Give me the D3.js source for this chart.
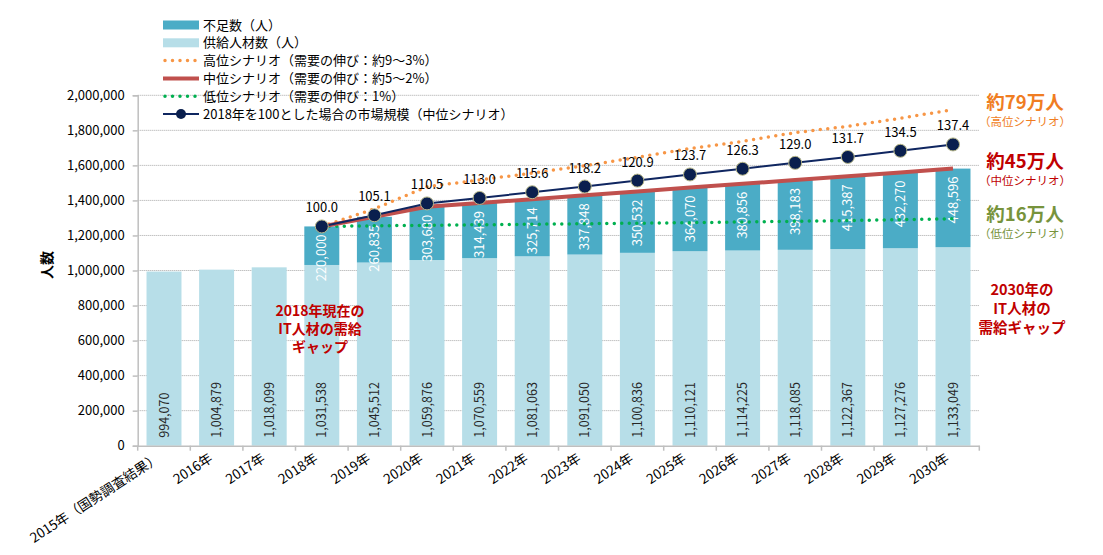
<!DOCTYPE html>
<html lang="ja">
<head>
<meta charset="utf-8">
<title>IT人材の需給ギャップ</title>
<script src="https://d3js.org/d3.v7.min.js"></script>
<style>
  body { margin: 0; background: #fff; }
  svg text { font-family: "Noto Sans CJK JP", "Noto Sans", sans-serif; }
</style>
</head>
<body>
<div id="chart"></div>
<script>
// data
const years = ["2015年（国勢調査結果）", "2016年", "2017年", "2018年", "2019年", "2020年", "2021年", "2022年",
  "2023年", "2024年", "2025年", "2026年", "2027年", "2028年", "2029年", "2030年"];
const supply = [994070, 1004879, 1018099, 1031538, 1045512, 1059876, 1070559, 1081063,
  1091050, 1100836, 1110121, 1114225, 1118085, 1122367, 1127276, 1133049];
// shortage from 2018 on (中位シナリオ)
const shortage = [null, null, null, 220000, 260835, 303680, 314439, 325714,
  337848, 350532, 364070, 380856, 398183, 415387, 432270, 448596];
// demand, high / low scenario, 2018..2030
const highDemand = [1251538, 1352000, 1478000, 1517000, 1556000, 1598000, 1646000,
  1696000, 1737000, 1787000, 1823000, 1869000, 1918000];
const lowDemand = [1251538, 1255000, 1258000, 1261000, 1264000, 1267000, 1270000,
  1273000, 1277000, 1281000, 1285000, 1290000, 1295000];
// market size index, 2018 = 100
const marketIndex = [100.0, 105.1, 110.5, 113.0, 115.6, 118.2, 120.9, 123.7, 126.3, 129.0, 131.7, 134.5, 137.4];
const yTicks = [0, 200000, 400000, 600000, 800000, 1000000, 1200000, 1400000, 1600000, 1800000, 2000000];

const width = 1103, height = 555;
const plotLeft = 137.7, plotRight = 979.3, plotTop = 95.3, plotBottom = 445.7;

const svg = d3.select("#chart").append("svg")
  .attr("width", width).attr("height", height);

const x = d3.scaleBand().domain(years).range([plotLeft, plotRight]).paddingInner(0.335).paddingOuter(0.1675);
const y = d3.scaleLinear().domain([0, 2000000]).range([plotBottom, plotTop]);
const cx = i => x(years[i]) + x.bandwidth() / 2;
const fmt = d3.format(",");

// grid
svg.append("g").selectAll("line").data(yTicks.slice(1)).enter().append("line")
  .attr("x1", plotLeft).attr("x2", plotRight)
  .attr("y1", d => y(d)).attr("y2", d => y(d))
  .attr("stroke", "#a6a6a6").attr("stroke-width", 1).attr("stroke-dasharray", "1,1");

// y axis
const yAxis = d3.axisLeft(y).tickValues(yTicks).tickFormat(fmt).tickSize(5).tickPadding(8);
const gy = svg.append("g").attr("transform", `translate(${plotLeft},0)`).call(yAxis);
gy.selectAll("path, line").attr("stroke", "#bfbfbf").attr("stroke-width", 1.5);
gy.selectAll("text").attr("font-size", 13).attr("fill", "#000");

svg.append("text")
  .attr("transform", `translate(52,265) rotate(-90)`)
  .attr("text-anchor", "middle").attr("font-size", 14).attr("font-weight", "bold")
  .text("人数");

// bars - supply
svg.append("g").selectAll("rect").data(supply).enter().append("rect")
  .attr("x", (d, i) => x(years[i])).attr("width", x.bandwidth())
  .attr("y", d => y(d)).attr("height", d => plotBottom - y(d))
  .attr("fill", "#b7dee8");

// bars - shortage
const gapIdx = d3.range(years.length).filter(i => shortage[i] != null);
svg.append("g").selectAll("rect").data(gapIdx).enter().append("rect")
  .attr("x", i => x(years[i])).attr("width", x.bandwidth())
  .attr("y", i => y(supply[i] + shortage[i]))
  .attr("height", i => y(supply[i]) - y(supply[i] + shortage[i]))
  .attr("fill", "#4bacc6");

// x axis
const xAxis = d3.axisBottom(x).tickSize(0).tickFormat("");
const gx = svg.append("g").attr("transform", `translate(0,${plotBottom})`).call(xAxis);
gx.select("path").attr("stroke", "#bfbfbf").attr("stroke-width", 1.5);
const step = x.step();
svg.append("g").selectAll("line").data(d3.range(years.length + 1)).enter().append("line")
  .attr("x1", i => plotLeft + i * step).attr("x2", i => plotLeft + i * step)
  .attr("y1", plotBottom).attr("y2", plotBottom + 5)
  .attr("stroke", "#bfbfbf").attr("stroke-width", 1.5);
svg.append("g").selectAll("text").data(years).enter().append("text")
  .attr("transform", (d, i) => `translate(${cx(i) - 3},${plotBottom + 15}) rotate(-33)`)
  .attr("text-anchor", "end").attr("font-size", 13.5).attr("fill", "#000")
  .text(d => d);

// supply labels
svg.append("g").selectAll("text").data(supply).enter().append("text")
  .attr("transform", (d, i) => `translate(${cx(i) + 4.5},${plotBottom - 8}) rotate(-90)`)
  .attr("text-anchor", "start").attr("font-size", 12.5).attr("fill", "#262626")
  .text(d => fmt(d));

// shortage labels
svg.append("g").selectAll("text").data(gapIdx).enter().append("text")
  .attr("transform", i => `translate(${cx(i) + 4.5},${y(supply[i] + shortage[i]) + 8}) rotate(-90)`)
  .attr("text-anchor", "end").attr("font-size", 13).attr("fill", "#fff")
  .text(i => fmt(shortage[i]));

// scenario lines (2018..2030)
const first = 3;
const line = d3.line().x((d, i) => cx(first + i)).y(d => y(d));
const midDemand = gapIdx.map(i => supply[i] + shortage[i]);

svg.append("path").datum(highDemand).attr("d", line)
  .attr("fill", "none").attr("stroke", "#f79646").attr("stroke-width", 3.5)
  .attr("stroke-linecap", "round").attr("stroke-dasharray", "0,7.5");
svg.append("path").datum(lowDemand).attr("d", line)
  .attr("fill", "none").attr("stroke", "#00b050").attr("stroke-width", 3.5)
  .attr("stroke-linecap", "round").attr("stroke-dasharray", "0,7.5");
svg.append("path").datum(midDemand).attr("d", line)
  .attr("fill", "none").attr("stroke", "#c0504d").attr("stroke-width", 4);

// market size (index scaled to 2018 demand)
const base = midDemand[0] / 100;
svg.append("path").datum(marketIndex.map(v => v * base)).attr("d", line)
  .attr("fill", "none").attr("stroke", "#0f2660").attr("stroke-width", 2);
svg.append("g").selectAll("circle").data(marketIndex).enter().append("circle")
  .attr("cx", (d, i) => cx(first + i)).attr("cy", d => y(d * base)).attr("r", 6.5)
  .attr("fill", "#0a1f4e").attr("stroke", "#b9b98a").attr("stroke-width", 1);
svg.append("g").selectAll("text").data(marketIndex).enter().append("text")
  .attr("x", (d, i) => cx(first + i)).attr("y", d => y(d * base) - 14)
  .attr("text-anchor", "middle").attr("font-size", 13).attr("fill", "#000")
  .text(d => d.toFixed(1));

// legend
const legend = svg.append("g").attr("transform", "translate(163,0)");
const rows = [
  { t: "不足数（人）", k: "rect", c: "#4bacc6" },
  { t: "供給人材数（人）", k: "rect", c: "#b7dee8" },
  { t: "高位シナリオ（需要の伸び：約9～3%）", k: "dot", c: "#f79646" },
  { t: "中位シナリオ（需要の伸び：約5～2%）", k: "solid", c: "#c0504d" },
  { t: "低位シナリオ（需要の伸び：1%）", k: "dot", c: "#00b050" },
  { t: "2018年を100とした場合の市場規模（中位シナリオ）", k: "mark", c: "#0f2660" }
];
rows.forEach((r, i) => {
  const yy = 25 + i * 17.8;
  const g = legend.append("g").attr("transform", `translate(0,${yy})`);
  if (r.k === "rect") {
    g.append("rect").attr("x", 0).attr("y", -4.5).attr("width", 36).attr("height", 9).attr("fill", r.c);
  } else if (r.k === "dot") {
    g.append("line").attr("x1", 2).attr("x2", 36).attr("y1", 0).attr("y2", 0)
      .attr("stroke", r.c).attr("stroke-width", 3.5).attr("stroke-linecap", "round").attr("stroke-dasharray", "0,7.5");
  } else if (r.k === "solid") {
    g.append("line").attr("x1", 0).attr("x2", 36).attr("y1", 0).attr("y2", 0)
      .attr("stroke", r.c).attr("stroke-width", 4);
  } else {
    g.append("line").attr("x1", 0).attr("x2", 36).attr("y1", 0).attr("y2", 0)
      .attr("stroke", r.c).attr("stroke-width", 2);
    g.append("circle").attr("cx", 18).attr("cy", 0).attr("r", 5).attr("fill", "#0a1f4e");
  }
  g.append("text").attr("x", 40).attr("y", 4.5).attr("font-size", 13).attr("fill", "#000").text(r.t);
});

// annotations
const notes = [
  { t: "約79万人", s: "（高位シナリオ）", c: "#f07d22", y: 109 },
  { t: "約45万人", s: "（中位シナリオ）", c: "#c00000", y: 168 },
  { t: "約16万人", s: "（低位シナリオ）", c: "#77933c", y: 221 }
];
notes.forEach(n => {
  svg.append("text").attr("x", 1025).attr("y", n.y).attr("text-anchor", "middle")
    .attr("font-size", 18.5).attr("font-weight", "bold").attr("fill", n.c).text(n.t);
  svg.append("text").attr("x", 1025).attr("y", n.y + 17).attr("text-anchor", "middle")
    .attr("font-size", 11.5).attr("fill", n.c).text(n.s);
});
["2030年の", "IT人材の", "需給ギャップ"].forEach((t, i) => {
  svg.append("text").attr("x", 1022).attr("y", 295 + i * 19).attr("text-anchor", "middle")
    .attr("font-size", 14.5).attr("font-weight", "bold").attr("fill", "#c00000").text(t);
});
["2018年現在の", "IT人材の需給", "ギャップ"].forEach((t, i) => {
  svg.append("text").attr("x", 320).attr("y", 316 + i * 18).attr("text-anchor", "middle")
    .attr("font-size", 14).attr("font-weight", "bold").attr("fill", "#c00000").text(t);
});
</script>
</body>
</html>
